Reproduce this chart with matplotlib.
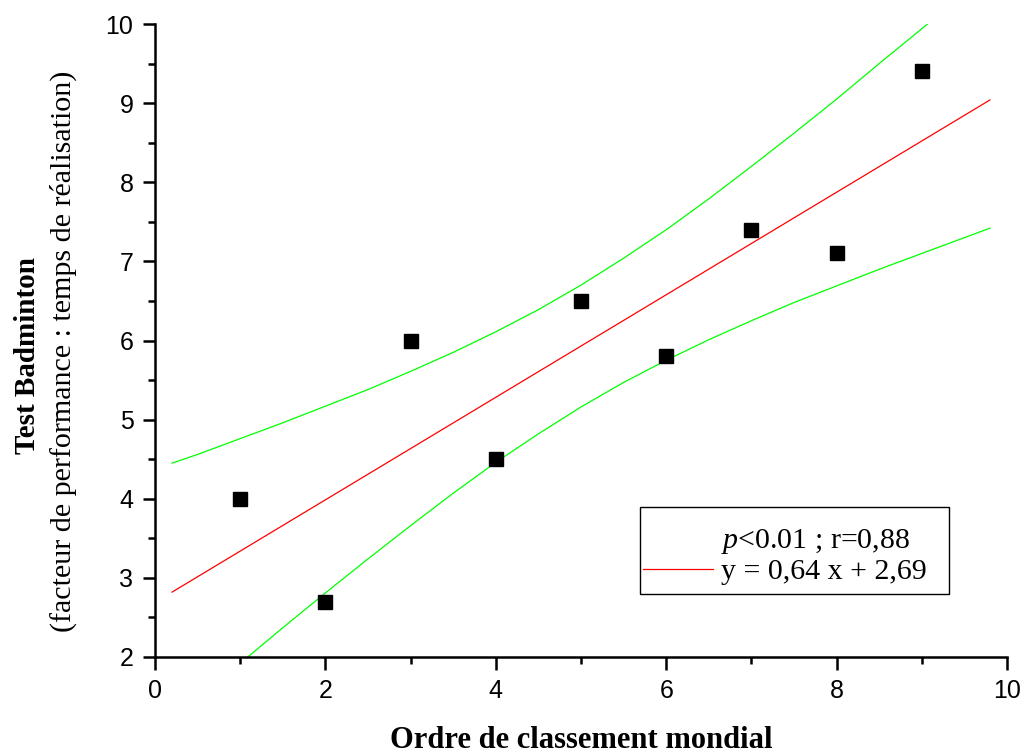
import matplotlib
matplotlib.use("Agg")
import matplotlib.pyplot as plt
from matplotlib.lines import Line2D
from matplotlib.patches import Rectangle

plt.rcParams['mathtext.fontset'] = 'custom'
plt.rcParams['mathtext.rm'] = 'Liberation Serif'
plt.rcParams['mathtext.it'] = 'Liberation Serif:italic'

# Data points
rank = [1, 2, 3, 4, 5, 6, 7, 8, 9]
score = [4.0, 2.7, 6.0, 4.5, 6.5, 5.8, 7.4, 7.1, 9.4]

# Regression line
fit_x = [0.2, 9.8]
fit_y = [2.82, 9.04]

# Confidence band curves
band_x = [0.2, 0.5, 1.0, 1.5, 2.0, 2.5, 3.0, 3.5, 4.0, 4.5, 5.0, 5.5, 6.0,
          6.5, 7.0, 7.5, 8.0, 8.5, 9.0, 9.5, 9.8]
band_upper = [4.45, 4.56, 4.76, 4.96, 5.17, 5.38, 5.61, 5.85, 6.11, 6.39, 6.70,
              7.04, 7.40, 7.79, 8.20, 8.62, 9.05, 9.50, 9.94, 10.39, 10.67]
band_lower = [1.20, 1.47, 1.92, 2.37, 2.81, 3.24, 3.66, 4.07, 4.46, 4.82, 5.16,
              5.47, 5.75, 6.01, 6.25, 6.48, 6.69, 6.90, 7.10, 7.30, 7.42]

fig = plt.figure(figsize=(10.23, 7.53), dpi=100)
ax = fig.add_axes([155/1023, 1-657/753, 852/1023, 633/753])

ax.plot(band_x, band_upper, color='#00ff00', lw=0.9)
ax.plot(band_x, band_lower, color='#00ff00', lw=0.9)
red, = ax.plot(fit_x, fit_y, color='#ff0000', lw=0.9)
ax.plot(rank, score, 's', color='black', ms=9.5, ls='none')

ax.set_xlim(0, 10)
ax.set_ylim(2, 10)
ax.set_xticks([0, 2, 4, 6, 8, 10])
ax.set_xticks([1, 3, 5, 7, 9], minor=True)
ax.set_yticks([2, 3, 4, 5, 6, 7, 8, 9, 10])
ax.set_yticks([2.5, 3.5, 4.5, 5.5, 6.5, 7.5, 8.5, 9.5], minor=True)

for s in ['top', 'right']:
    ax.spines[s].set_visible(False)
for s in ['left', 'bottom']:
    ax.spines[s].set_linewidth(1.8)

ax.tick_params(which='major', direction='out', length=9, width=1.8,
               labelsize=18, pad=6.5)
ax.tick_params(which='minor', direction='out', length=5, width=1.8)
for lab in ax.get_xticklabels() + ax.get_yticklabels():
    lab.set_family('Liberation Sans')

fig.text(581/1023, 1-740/753, 'Ordre de classement mondial',
         family='Liberation Serif', weight='bold', fontsize=22,
         ha='center', va='center')
fig.text(28/1023, 1-356/753, 'Test Badminton', family='Liberation Serif',
         weight='bold', fontsize=21, rotation=90, ha='center', va='center')
fig.text(63/1023, 1-351/753, '(facteur de performance : temps de réalisation)',
         family='Liberation Serif', fontsize=21.6, rotation=90,
         ha='center', va='center')

# legend frame
ax.add_patch(Rectangle(((640-155)/852, (657-594)/633), 309/852, 87/633,
                       transform=ax.transAxes, facecolor='white',
                       edgecolor='black', lw=1.0, zorder=4))

blank = Line2D([], [], color='none')
leg = ax.legend([blank, red], [r'$\it{p}$<0.01 ; r=0,88', 'y = 0,64 x + 2,69'],
                loc='upper left', bbox_to_anchor=((643-155)/852, (657-527)/633),
                prop={'family': 'Liberation Serif', 'size': 21.5},
                frameon=False, handlelength=2.35, handletextpad=0.25,
                borderpad=0, labelspacing=0.08, borderaxespad=0)
leg.set_zorder(5)

fig.savefig('out.png', dpi=100)
